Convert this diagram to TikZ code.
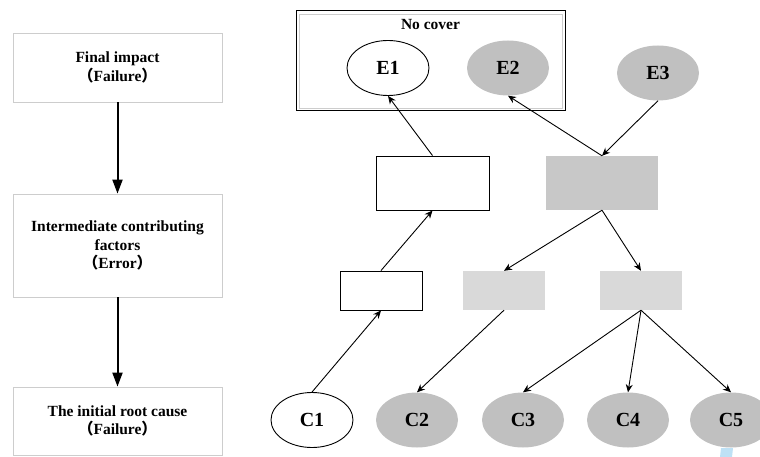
\documentclass[tikz,border=0pt]{standalone}
\usepackage{fontspec}
\setmainfont{Liberation Serif}
\newfontfamily\cjk{Noto Sans CJK SC}
\usetikzlibrary{arrows.meta,shapes.geometric}
\newcommand{\lp}{{\cjk （}}
\newcommand{\rp}{{\cjk ）}}
\definecolor{midgray}{RGB}{192,192,192}
\definecolor{boxgray}{RGB}{200,200,200}
\definecolor{lightgray2}{RGB}{217,217,217}
\definecolor{framegray}{RGB}{205,205,205}
\definecolor{selblue}{RGB}{190,225,245}
\begin{document}
\begin{tikzpicture}[x=1pt,y=-1pt,
  levelbox/.style={draw=framegray, line width=0.8pt, minimum width=209pt,
    minimum height=#1, align=center, inner sep=0pt,
    font=\fontsize{15.5}{18.5}\selectfont\bfseries},
  bigarrow/.style={line width=2pt, -{Triangle[length=14pt,width=10pt]}},
  arr/.style={line width=0.9pt, -{Stealth[length=8pt,width=7pt]}},
  plainbox/.style={draw=black, line width=0.9pt, fill=white, inner sep=0pt},
  darkbox/.style={fill=boxgray, inner sep=0pt},
  lightbox/.style={fill=lightgray2, inner sep=0pt},
  event/.style={ellipse, minimum width=82pt, minimum height=55pt, inner sep=0pt,
    font=\fontsize{20}{23}\selectfont\bfseries},
  openevent/.style={event, draw=black, line width=0.9pt, fill=white},
  grayevent/.style={event, fill=midgray},
]
\useasboundingbox (0,0) rectangle (760,457);

% levels of the causal chain
\node[levelbox=69pt] (final) at (117.5,67.5) {Final impact\\\lp Failure\rp};
\node[levelbox=103pt] (inter) at (117.5,245.5) {Intermediate contributing\\factors\\\lp Error\rp};
\node[levelbox=68pt] (root) at (117.5,421) {The initial root cause\\\lp Failure\rp};
\draw[bigarrow] (final.south) -- (inter.north);
\draw[bigarrow] (inter.south) -- (root.north);

% uncovered final events
\node[draw=black, line width=1pt, minimum width=269pt, minimum height=100pt, inner sep=0pt]
  (cover) at (430.5,61) {};
\draw[framegray, line width=0.8pt] (299,14) rectangle (562,108);
\node[font=\fontsize{15.5}{18}\selectfont\bfseries] (covertitle) at (430.5,25) {No cover};
\node[openevent] (E1) at (388,68) {E1};
\node[grayevent] (E2) at (508,68) {E2};
\node[grayevent] (E3) at (658,73) {E3};

% intermediate factors
\node[plainbox, minimum width=113pt, minimum height=54pt] (A) at (432.5,183) {};
\node[darkbox, minimum width=112pt, minimum height=54pt] (B) at (602,183) {};
\node[plainbox, minimum width=82pt, minimum height=39pt] (C) at (381,290.5) {};
\node[lightbox, minimum width=82pt, minimum height=39pt] (D) at (504,290.5) {};
\node[lightbox, minimum width=82pt, minimum height=39pt] (E) at (641,290.5) {};

% root causes
\node[openevent] (C1) at (312,420) {C1};
\node[grayevent] (C2) at (417,420) {C2};
\node[grayevent] (C3) at (523,420) {C3};
\node[grayevent] (C4) at (628,420) {C4};
\node[grayevent] (C5) at (731,420) {C5};
\fill[selblue] (721,448) -- (733,448) -- (732,457) -- (720,457) -- cycle;

% propagation
\draw[arr] (A.north) -- (E1.south);
\draw[arr] (B.north) -- (E2.south);
\draw[arr] (E3.south) -- (B.north);
\draw[arr] (B.south) -- (D.north);
\draw[arr] (B.south) -- (E.north);
\draw[arr] (C.north) -- (A.south);
\draw[arr] (C1.north) -- (C.south);
\draw[arr] (D.south) -- (C2.north);
\draw[arr] (E.south) -- (C3.north);
\draw[arr] (E.south) -- (C4.north);
\draw[arr] (E.south) -- (C5.north);
\end{tikzpicture}
\end{document}
